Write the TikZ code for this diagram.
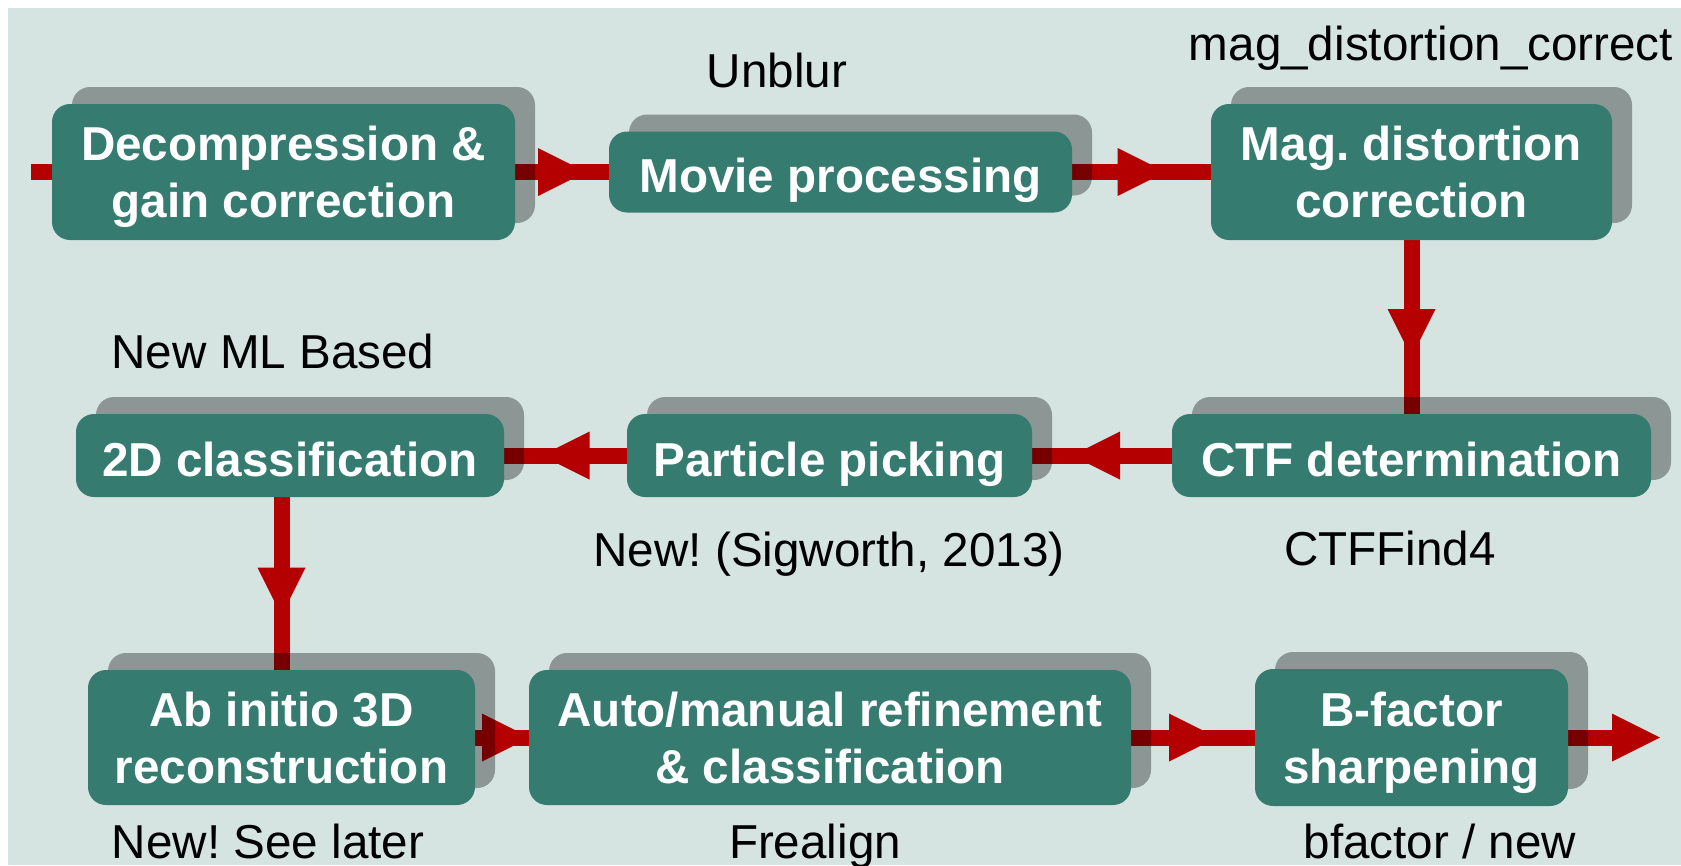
\documentclass[tikz,border=0pt]{standalone}
\usepackage{fontspec}
\setmainfont{Liberation Sans}
\usetikzlibrary{shadows,decorations.markings,backgrounds}
\definecolor{bgc}{RGB}{213,228,225}
\definecolor{boxc}{RGB}{53,123,111}
\definecolor{arrc}{RGB}{180,0,0}
\newcommand\nodp[1]{\raisebox{0pt}[\height][-7pt]{#1}}
\frenchspacing
\tikzset{
  stepbox/.style={draw=none, fill=boxc, rounded corners=18pt, inner sep=0pt,
    align=center, text=white,
    font=\fontsize{47.6}{57}\selectfont\bfseries,
    drop shadow={shadow xshift=20pt, shadow yshift=17pt, opacity=0.34, fill=black}},
  oneline/.style={text height=41pt, text depth=0pt},
  lab/.style={anchor=base, inner sep=0pt, font=\fontsize{47.6}{57}\selectfont},
  conn/.style={draw=arrc, line width=16pt},
  midarrow/.style={postaction=decorate, decoration={markings,
    mark=at position 0.5 with {\fill[arrc] (24+#1,0) -- (-24+#1,24) -- (-24+#1,-24) -- cycle;}}},
  midarrow/.default=0
}
\begin{document}
\begin{tikzpicture}[x=1pt,y=-1pt]
\useasboundingbox (0,0) rectangle (1681,865);

% row 1
\node[stepbox, minimum width=463pt, minimum height=136pt] (dec) at (283.5,172) {Decompression \&\\\nodp{gain correction}};
\node[stepbox, oneline, minimum width=463pt, minimum height=81pt] (movie) at (840.5,172) {Movie processing};
\node[stepbox, minimum width=401pt, minimum height=136pt] (mag) at (1411.5,172) {Mag. distortion\\\nodp{correction}};
% row 2
\node[stepbox, oneline, minimum width=479pt, minimum height=83pt] (ctf) at (1411.5,455.5) {CTF determination};
\node[stepbox, oneline, minimum width=405pt, minimum height=83pt] (pick) at (829.5,455.5) {Particle picking};
\node[stepbox, oneline, minimum width=428pt, minimum height=83pt] (cls) at (290,455.5) {2D classification};
% row 3
\node[stepbox, minimum width=387pt, minimum height=135pt] (abin) at (281.5,737.5) {Ab initio 3D\\\nodp{reconstruction}};
\node[stepbox, minimum width=602pt, minimum height=135pt] (auto) at (830,737.5) {Auto/manual refinement\\\nodp{\& classification}};
\node[stepbox, minimum width=313pt, minimum height=137pt] (bfac) at (1411.5,737.5) {B-factor\\\nodp{sharpening}};

% labels
\node[lab] (l1) at (777,87) {Unblur};
\node[lab] (l2) at (1431,60) {mag\_distortion\_correct};
\node[lab] (l3) at (273,368) {New ML Based};
\node[lab] (l4) at (829,566) {New! (Sigworth, 2013)};
\node[lab] (l5) at (1390,565) {CTFFind4};
\node[lab] (l6) at (268,858) {New! See later};
\node[lab] (l7) at (815,858) {Frealign};
\node[lab] (l8) at (1440,858) {bfactor / new};

\coordinate (instart) at (31,172);
\coordinate (outtip) at (1660,737.5);

\begin{pgfonlayer}{background}
\fill[bgc] (8,8) rectangle (1681,865);
\draw[conn] (instart) -- (dec.west);
\draw[conn, midarrow] (dec.east) -- (movie.west);
\draw[conn, midarrow] (movie.east) -- (mag.west);
\draw[conn, midarrow=6] (mag.south) -- (ctf.north);
\draw[conn, midarrow=6] (ctf.west) -- (pick.east);
\draw[conn, midarrow] (pick.west) -- (cls.east);
\draw[conn, midarrow=8] (cls.south -| abin.north) -- (abin.north);
\draw[conn, midarrow=4] (abin.east) -- (auto.west);
\draw[conn, midarrow] (auto.east) -- (bfac.west);
\draw[conn] (bfac.east) -- ([xshift=-48pt]outtip);
\fill[arrc] (outtip) -- ++(-48,24) -- ++(0,-48) -- cycle;
\end{pgfonlayer}
\end{tikzpicture}
\end{document}
